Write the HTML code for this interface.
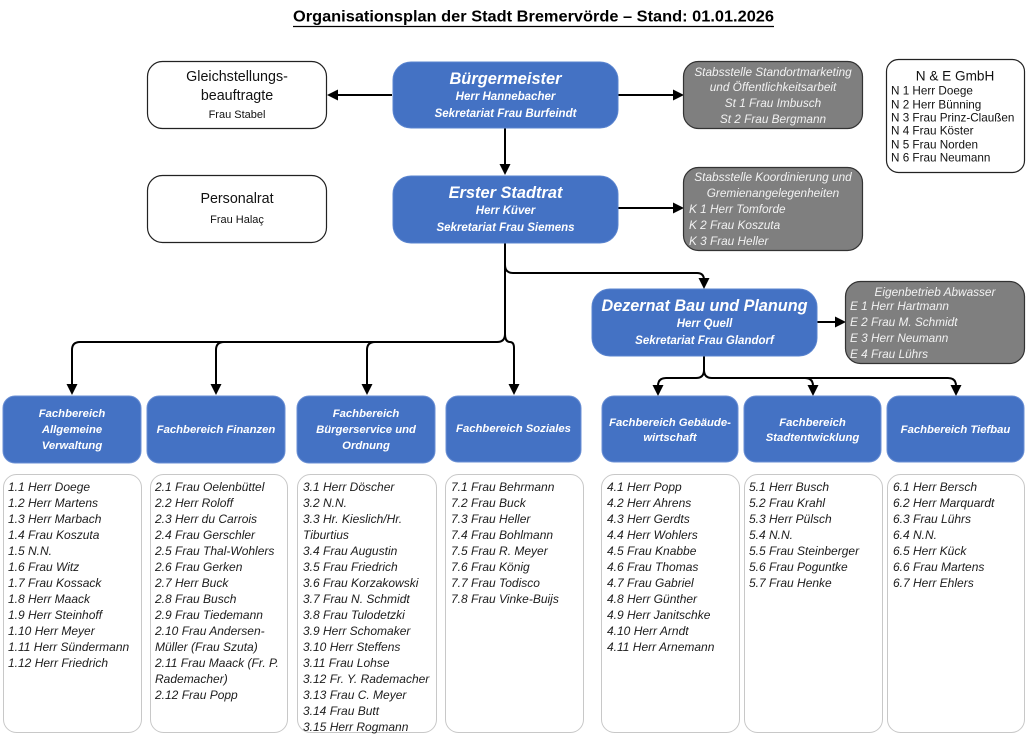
<!DOCTYPE html>
<html><head><meta charset="utf-8">
<style>
html,body{margin:0;padding:0;background:#fff;}
svg{display:block;}
text{font-family:"Liberation Sans",sans-serif;dominant-baseline:central;}
.bt{fill:#fff;font-weight:bold;font-style:italic;text-anchor:middle;}
.gt{fill:#f2f2f2;font-style:italic;font-size:11.8px;}
.li{fill:#1c1c1c;font-style:italic;font-size:12px;}
.ne{fill:#111;font-size:11.7px;}
.con{fill:none;stroke:#000;stroke-width:2;}
</style></head>
<body>
<svg width="1026" height="742" viewBox="0 0 1026 742" xmlns="http://www.w3.org/2000/svg">
<!-- Title -->
<text x="293" y="17" font-size="16" font-weight="bold" fill="#000" textLength="481" lengthAdjust="spacingAndGlyphs">Organisationsplan der Stadt Bremervörde – Stand: 01.01.2026</text>
<line x1="293" y1="26.5" x2="774" y2="26.5" stroke="#000" stroke-width="1.2"/>

<!-- Connectors -->
<path class="con" d="M392,95 H334"/>
<polygon points="327,95 338,89.5 338,100.5" fill="#000"/>
<path class="con" d="M618,95 H676"/>
<polygon points="684,95 673,89.5 673,100.5" fill="#000"/>
<path class="con" d="M505,128 V166"/>
<polygon points="505,175 499.5,164 510.5,164" fill="#000"/>
<path class="con" d="M618,208 H676"/>
<polygon points="684,208 673,202.5 673,213.5" fill="#000"/>
<path class="con" d="M505,243 V265 Q505,273 513,273 H697 Q704,273 704,280"/>
<polygon points="704,289 698.5,278 709.5,278" fill="#000"/>
<path class="con" d="M817,322 H838"/>
<polygon points="846,322 835,316.5 835,327.5" fill="#000"/>
<!-- left branches -->
<path class="con" d="M505,243 V334 Q505,342 497,342 H80 Q72,342 72,350 V386"/>
<path class="con" d="M224,342 Q216,342 216,350 V386"/>
<path class="con" d="M375,342 Q367,342 367,350 V386"/>
<path class="con" d="M505,334 Q505,342 510,342 Q514,342 514,348 V386"/>
<polygon points="72,395 66.5,384 77.5,384" fill="#000"/>
<polygon points="216,395 210.5,384 221.5,384" fill="#000"/>
<polygon points="367,395 361.5,384 372.5,384" fill="#000"/>
<polygon points="514,395 508.5,384 519.5,384" fill="#000"/>
<!-- right branches -->
<path class="con" d="M704,356 V370 Q704,378 696,378 H666 Q658,378 658,386"/>
<path class="con" d="M704,370 Q704,378 712,378 H948 Q956,378 956,386"/>
<path class="con" d="M805,378 Q813,378 813,386"/>
<polygon points="658,396 652.5,385 663.5,385" fill="#000"/>
<polygon points="813,396 807.5,385 818.5,385" fill="#000"/>
<polygon points="956,396 950.5,385 961.5,385" fill="#000"/>

<!-- Gleichstellung -->
<rect x="147.5" y="61.5" width="179" height="67" rx="15" fill="#fff" stroke="#222" stroke-width="1.2"/>
<text x="237" y="77" font-size="14.3" text-anchor="middle" fill="#111">Gleichstellungs-</text>
<text x="237" y="96" font-size="14.3" text-anchor="middle" fill="#111">beauftragte</text>
<text x="237" y="115" font-size="11" text-anchor="middle" fill="#111">Frau Stabel</text>
<!-- Personalrat -->
<rect x="147.5" y="175.5" width="179" height="67" rx="15" fill="#fff" stroke="#222" stroke-width="1.2"/>
<text x="237" y="199" font-size="14.3" text-anchor="middle" fill="#111">Personalrat</text>
<text x="237" y="220" font-size="11" text-anchor="middle" fill="#111">Frau Halaç</text>

<!-- Bürgermeister -->
<rect x="393" y="62" width="225" height="66" rx="18" fill="#4472c4" stroke="#5a84cf" stroke-width="1"/>
<text class="bt" x="505.5" y="79" font-size="16.4">Bürgermeister</text>
<text class="bt" x="505.5" y="97" font-size="11.5">Herr Hannebacher</text>
<text class="bt" x="505.5" y="114" font-size="11.5">Sekretariat Frau Burfeindt</text>
<!-- Erster Stadtrat -->
<rect x="393" y="176" width="225" height="67" rx="18" fill="#4472c4" stroke="#5a84cf" stroke-width="1"/>
<text class="bt" x="505.5" y="193" font-size="16.4">Erster Stadtrat</text>
<text class="bt" x="505.5" y="211" font-size="11.5">Herr Küver</text>
<text class="bt" x="505.5" y="228" font-size="11.5">Sekretariat Frau Siemens</text>
<!-- Dezernat -->
<rect x="592" y="289" width="225" height="67" rx="18" fill="#4472c4" stroke="#5a84cf" stroke-width="1"/>
<text class="bt" x="704.5" y="306" font-size="16.2">Dezernat Bau und Planung</text>
<text class="bt" x="704.5" y="324" font-size="11.5">Herr Quell</text>
<text class="bt" x="704.5" y="341" font-size="11.5">Sekretariat Frau Glandorf</text>

<!-- Stabsstelle Standortmarketing -->
<rect x="683.5" y="61.5" width="179" height="67" rx="15" fill="#7f7f7f" stroke="#333" stroke-width="1.2"/>
<text class="gt" x="773" y="72" text-anchor="middle">Stabsstelle Standortmarketing</text>
<text class="gt" x="773" y="87" text-anchor="middle">und Öffentlichkeitsarbeit</text>
<text class="gt" x="773" y="103" text-anchor="middle">St 1 Frau Imbusch</text>
<text class="gt" x="773" y="119" text-anchor="middle">St 2 Frau Bergmann</text>
<!-- Stabsstelle Koordinierung -->
<rect x="683.5" y="167.5" width="179" height="83" rx="15" fill="#7f7f7f" stroke="#333" stroke-width="1.2"/>
<text class="gt" x="773" y="177" text-anchor="middle">Stabsstelle Koordinierung und</text>
<text class="gt" x="773" y="193" text-anchor="middle">Gremienangelegenheiten</text>
<text class="gt" x="689" y="209">K 1 Herr Tomforde</text>
<text class="gt" x="689" y="225">K 2 Frau Koszuta</text>
<text class="gt" x="689" y="241">K 3 Frau Heller</text>
<!-- Eigenbetrieb -->
<rect x="845.5" y="281.5" width="179" height="82" rx="15" fill="#7f7f7f" stroke="#333" stroke-width="1.2"/>
<text class="gt" x="935" y="292" text-anchor="middle">Eigenbetrieb Abwasser</text>
<text class="gt" x="850" y="306">E 1 Herr Hartmann</text>
<text class="gt" x="850" y="322">E 2 Frau M. Schmidt</text>
<text class="gt" x="850" y="338">E 3 Herr Neumann</text>
<text class="gt" x="850" y="354">E 4 Frau Lührs</text>

<!-- N & E GmbH -->
<rect x="886.5" y="59.5" width="138" height="113" rx="12" fill="#fff" stroke="#222" stroke-width="1.2"/>
<text x="955" y="76" font-size="13.6" text-anchor="middle" fill="#111">N &amp; E GmbH</text>
<text class="ne" x="891" y="91">N 1 Herr Doege</text>
<text class="ne" x="891" y="105">N 2 Herr Bünning</text>
<text class="ne" x="891" y="118">N 3 Frau Prinz-Claußen</text>
<text class="ne" x="891" y="131">N 4 Frau Köster</text>
<text class="ne" x="891" y="145">N 5 Frau Norden</text>
<text class="ne" x="891" y="158">N 6 Frau Neumann</text>

<!-- Fachbereich headers -->
<g fill="#4472c4" stroke="#6a8fd4" stroke-width="1">
<rect x="3" y="396" width="138" height="67" rx="12"/>
<rect x="147" y="396" width="138" height="67" rx="12"/>
<rect x="297" y="396" width="138" height="67" rx="12"/>
<rect x="446" y="396" width="135" height="66" rx="12"/>
<rect x="602" y="396" width="136" height="66" rx="12"/>
<rect x="744" y="396" width="137" height="66" rx="12"/>
<rect x="887" y="396" width="137" height="66" rx="12"/>
</g>
<g>
<text class="bt" x="72" y="414" font-size="11.3">Fachbereich</text>
<text class="bt" x="72" y="430" font-size="11.3">Allgemeine</text>
<text class="bt" x="72" y="446" font-size="11.3">Verwaltung</text>
<text class="bt" x="216" y="430" font-size="11.3">Fachbereich Finanzen</text>
<text class="bt" x="366" y="414" font-size="11.3">Fachbereich</text>
<text class="bt" x="366" y="430" font-size="11.3">Bürgerservice und</text>
<text class="bt" x="366" y="446" font-size="11.3">Ordnung</text>
<text class="bt" x="513.5" y="429" font-size="11.3">Fachbereich Soziales</text>
<text class="bt" x="670" y="423" font-size="11.3">Fachbereich Gebäude-</text>
<text class="bt" x="670" y="438" font-size="11.3">wirtschaft</text>
<text class="bt" x="812.5" y="423" font-size="11.3">Fachbereich</text>
<text class="bt" x="812.5" y="438" font-size="11.3">Stadtentwicklung</text>
<text class="bt" x="955.5" y="430" font-size="11.3">Fachbereich Tiefbau</text>
</g>

<!-- List boxes -->
<g fill="#fff" stroke="#c8c8c8" stroke-width="1">
<rect x="3.5" y="474.5" width="138" height="258" rx="13"/>
<rect x="150.5" y="474.5" width="137" height="258" rx="13"/>
<rect x="297.5" y="474.5" width="139" height="258" rx="13"/>
<rect x="445.5" y="474.5" width="138" height="258" rx="13"/>
<rect x="601.5" y="474.5" width="138" height="258" rx="13"/>
<rect x="744.5" y="474.5" width="138" height="258" rx="13"/>
<rect x="887.5" y="474.5" width="137" height="258" rx="13"/>
</g>

<g>
<text class="li" x="8" y="487">1.1 Herr Doege</text>
<text class="li" x="8" y="503">1.2 Herr Martens</text>
<text class="li" x="8" y="519">1.3 Herr Marbach</text>
<text class="li" x="8" y="535">1.4 Frau Koszuta</text>
<text class="li" x="8" y="551">1.5 N.N.</text>
<text class="li" x="8" y="567">1.6 Frau Witz</text>
<text class="li" x="8" y="583">1.7 Frau Kossack</text>
<text class="li" x="8" y="599">1.8 Herr Maack</text>
<text class="li" x="8" y="615">1.9 Herr Steinhoff</text>
<text class="li" x="8" y="631">1.10 Herr Meyer</text>
<text class="li" x="8" y="647">1.11 Herr Sündermann</text>
<text class="li" x="8" y="663">1.12 Herr Friedrich</text>

<text class="li" x="155" y="487">2.1 Frau Oelenbüttel</text>
<text class="li" x="155" y="503">2.2 Herr Roloff</text>
<text class="li" x="155" y="519">2.3 Herr du Carrois</text>
<text class="li" x="155" y="535">2.4 Frau Gerschler</text>
<text class="li" x="155" y="551">2.5 Frau Thal-Wohlers</text>
<text class="li" x="155" y="567">2.6 Frau Gerken</text>
<text class="li" x="155" y="583">2.7 Herr Buck</text>
<text class="li" x="155" y="599">2.8 Frau Busch</text>
<text class="li" x="155" y="615">2.9 Frau Tiedemann</text>
<text class="li" x="155" y="631">2.10 Frau Andersen-</text>
<text class="li" x="155" y="647">Müller (Frau Szuta)</text>
<text class="li" x="155" y="663">2.11 Frau Maack (Fr. P.</text>
<text class="li" x="155" y="679">Rademacher)</text>
<text class="li" x="155" y="695">2.12 Frau Popp</text>

<text class="li" x="303" y="487">3.1 Herr Döscher</text>
<text class="li" x="303" y="503">3.2 N.N.</text>
<text class="li" x="303" y="519">3.3 Hr. Kieslich/Hr.</text>
<text class="li" x="303" y="535">Tiburtius</text>
<text class="li" x="303" y="551">3.4 Frau Augustin</text>
<text class="li" x="303" y="567">3.5 Frau Friedrich</text>
<text class="li" x="303" y="583">3.6 Frau Korzakowski</text>
<text class="li" x="303" y="599">3.7 Frau N. Schmidt</text>
<text class="li" x="303" y="615">3.8 Frau Tulodetzki</text>
<text class="li" x="303" y="631">3.9 Herr Schomaker</text>
<text class="li" x="303" y="647">3.10 Herr Steffens</text>
<text class="li" x="303" y="663">3.11 Frau Lohse</text>
<text class="li" x="303" y="679">3.12 Fr. Y. Rademacher</text>
<text class="li" x="303" y="695">3.13 Frau C. Meyer</text>
<text class="li" x="303" y="711">3.14 Frau Butt</text>
<text class="li" x="303" y="727">3.15 Herr Rogmann</text>

<text class="li" x="451" y="487">7.1 Frau Behrmann</text>
<text class="li" x="451" y="503">7.2 Frau Buck</text>
<text class="li" x="451" y="519">7.3 Frau Heller</text>
<text class="li" x="451" y="535">7.4 Frau Bohlmann</text>
<text class="li" x="451" y="551">7.5 Frau R. Meyer</text>
<text class="li" x="451" y="567">7.6 Frau König</text>
<text class="li" x="451" y="583">7.7 Frau Todisco</text>
<text class="li" x="451" y="599">7.8 Frau Vinke-Buijs</text>

<text class="li" x="607" y="487">4.1 Herr Popp</text>
<text class="li" x="607" y="503">4.2 Herr Ahrens</text>
<text class="li" x="607" y="519">4.3 Herr Gerdts</text>
<text class="li" x="607" y="535">4.4 Herr Wohlers</text>
<text class="li" x="607" y="551">4.5 Frau Knabbe</text>
<text class="li" x="607" y="567">4.6 Frau Thomas</text>
<text class="li" x="607" y="583">4.7 Frau Gabriel</text>
<text class="li" x="607" y="599">4.8 Herr Günther</text>
<text class="li" x="607" y="615">4.9 Herr Janitschke</text>
<text class="li" x="607" y="631">4.10 Herr Arndt</text>
<text class="li" x="607" y="647">4.11 Herr Arnemann</text>

<text class="li" x="749" y="487">5.1 Herr Busch</text>
<text class="li" x="749" y="503">5.2 Frau Krahl</text>
<text class="li" x="749" y="519">5.3 Herr Pülsch</text>
<text class="li" x="749" y="535">5.4 N.N.</text>
<text class="li" x="749" y="551">5.5 Frau Steinberger</text>
<text class="li" x="749" y="567">5.6 Frau Poguntke</text>
<text class="li" x="749" y="583">5.7 Frau Henke</text>

<text class="li" x="893" y="487">6.1 Herr Bersch</text>
<text class="li" x="893" y="503">6.2 Herr Marquardt</text>
<text class="li" x="893" y="519">6.3 Frau Lührs</text>
<text class="li" x="893" y="535">6.4 N.N.</text>
<text class="li" x="893" y="551">6.5 Herr Kück</text>
<text class="li" x="893" y="567">6.6 Frau Martens</text>
<text class="li" x="893" y="583">6.7 Herr Ehlers</text>
</g>
</svg>
</body></html>
